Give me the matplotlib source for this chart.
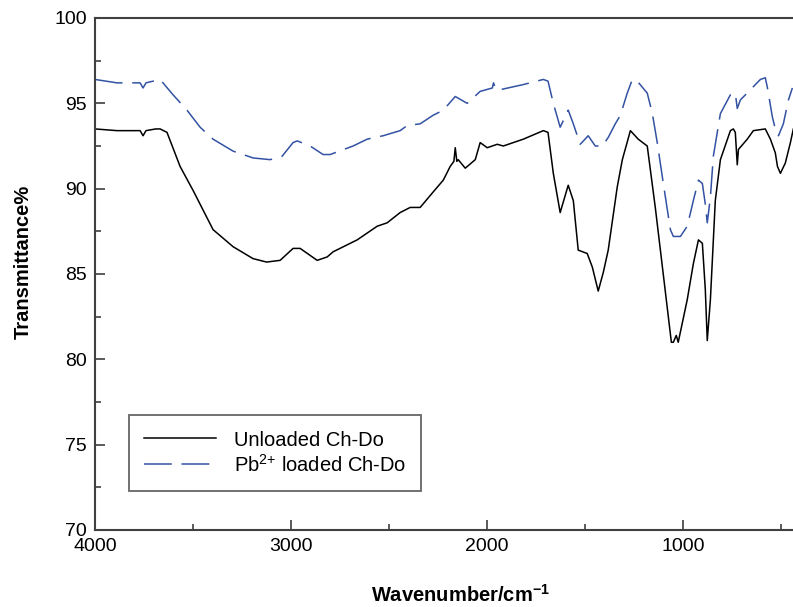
import matplotlib
matplotlib.use("Agg")
import matplotlib.pyplot as plt
from matplotlib.ticker import MultipleLocator

plt.rcParams['font.family'] = ['Liberation Sans', 'DejaVu Sans']
plt.rcParams['lines.scale_dashes'] = False
plt.rcParams['mathtext.fontset'] = 'custom'
plt.rcParams['mathtext.rm'] = 'Liberation Sans'
plt.rcParams['mathtext.bf'] = 'Liberation Sans:bold'

# Unloaded Ch-Do (wavenumber, transmittance)
unloaded_wn = [4000, 3888, 3770, 3755, 3740, 3690, 3668, 3633, 3566, 3500, 3398, 3296, 3194,
               3125, 3056, 2990, 2954, 2867, 2816, 2786, 2663, 2561, 2510, 2444, 2393, 2342,
               2276, 2224, 2189, 2170, 2163, 2155, 2148, 2112, 2061, 2036, 2000, 1949, 1918,
               1816, 1714, 1690, 1663, 1628, 1587, 1561, 1536, 1490, 1464, 1434, 1408, 1383,
               1337, 1311, 1270, 1230, 1184, 1143, 1117, 1061, 1051, 1036, 1026, 980, 949,
               923, 903, 888, 878, 862, 837, 811, 760, 745, 735, 725, 719, 674, 643, 582,
               556, 531, 520, 505, 480, 454, 439]
unloaded_t = [93.5, 93.4, 93.4, 93.1, 93.4, 93.5, 93.5, 93.3, 91.3, 89.9, 87.6, 86.6, 85.9,
              85.7, 85.8, 86.5, 86.5, 85.8, 86.0, 86.3, 87.0, 87.8, 88.0, 88.6, 88.9, 88.9,
              89.8, 90.5, 91.3, 91.6, 92.4, 91.6, 91.7, 91.2, 91.7, 92.7, 92.4, 92.6, 92.5,
              92.9, 93.4, 93.3, 90.9, 88.6, 90.2, 89.3, 86.4, 86.2, 85.4, 84.0, 85.1, 86.4,
              90.1, 91.7, 93.4, 92.9, 92.5, 88.9, 86.4, 81.0, 81.0, 81.4, 81.0, 83.5, 85.6,
              87.0, 86.8, 84.1, 81.1, 83.5, 89.3, 91.7, 93.4, 93.5, 93.3, 91.4, 92.3, 92.9,
              93.4, 93.5, 92.9, 92.1, 91.3, 90.9, 91.5, 92.7, 93.5]

# Pb2+ loaded Ch-Do (wavenumber, transmittance)
loaded_wn = [4000, 3888, 3770, 3755, 3740, 3668, 3602, 3531, 3464, 3398, 3296, 3194, 3107,
             3046, 2990, 2969, 2903, 2837, 2801, 2684, 2612, 2531, 2444, 2408, 2342, 2276,
             2224, 2163, 2102, 2036, 1974, 1968, 1955, 1934, 1816, 1714, 1690, 1663, 1628,
             1587, 1561, 1526, 1485, 1449, 1413, 1383, 1347, 1321, 1286, 1260, 1235, 1184,
             1158, 1133, 1102, 1066, 1051, 1015, 980, 949, 923, 903, 888, 878, 862, 847,
             811, 760, 735, 725, 709, 658, 607, 582, 571, 546, 531, 515, 490, 464, 444]
loaded_t = [96.4, 96.2, 96.2, 95.9, 96.2, 96.4, 95.5, 94.6, 93.6, 92.9, 92.2, 91.8, 91.7,
            91.9, 92.7, 92.8, 92.5, 92.0, 92.0, 92.5, 92.9, 93.1, 93.4, 93.7, 93.8, 94.3,
            94.6, 95.4, 95.0, 95.7, 95.9, 96.2, 95.8, 95.8, 96.1, 96.4, 96.3, 95.0, 93.6,
            94.6, 93.8, 92.6, 93.1, 92.5, 92.5, 93.0, 93.8, 94.3, 95.6, 96.4, 96.3, 95.6,
            94.4, 92.7, 90.3, 87.6, 87.2, 87.2, 87.8, 89.3, 90.5, 90.3, 89.1, 88.0, 89.5,
            91.9, 94.4, 95.5, 95.6, 94.7, 95.2, 95.8, 96.4, 96.5, 95.9, 94.2, 93.5, 93.1,
            93.8, 95.2, 95.9]

fig = plt.figure(figsize=(7.93, 6.07), dpi=100)
ax = fig.add_axes([95/793, (607-530)/607, (801-95)/793, (530-18)/607])

spine_c = '#404040'
ax.plot(unloaded_wn, unloaded_t, color='black', lw=1.1, label='Unloaded Ch-Do')
ax.plot(loaded_wn, loaded_t, color='#3352a3', lw=1.1, dashes=(20, 7),
        label='Pb$^{\\mathregular{2{+}}}$ loaded Ch-Do')

ax.set_xlim(4000, 400)
ax.set_ylim(70, 100)
ax.xaxis.set_major_locator(MultipleLocator(1000))
ax.xaxis.set_minor_locator(MultipleLocator(500))
ax.yaxis.set_major_locator(MultipleLocator(5))
ax.yaxis.set_minor_locator(MultipleLocator(2.5))
ax.tick_params(which='both', direction='in', colors=spine_c, labelcolor='black',
               labelsize=14, top=False, right=False, width=1.2)
ax.tick_params(which='major', length=7, pad=6)
ax.tick_params(which='minor', length=4)
for s in ['left', 'bottom', 'top']:
    ax.spines[s].set_color(spine_c)
    ax.spines[s].set_linewidth(1.5)
ax.spines['right'].set_visible(False)

ax.set_xlabel('Wavenumber/cm$^{\\mathbf{-1}}$', fontsize=14.5, fontweight='bold')
ax.xaxis.set_label_coords(0.517, -0.105)
ax.set_ylabel('Transmittance%', fontsize=14.5, fontweight='bold')
ax.yaxis.set_label_coords(-0.088, 0.523)

leg = ax.legend(loc='lower left', bbox_to_anchor=(0.048, 0.077), fontsize=14.5,
                frameon=True, fancybox=False, edgecolor=spine_c, handlelength=3.6,
                handletextpad=0.85, borderpad=0.75, labelspacing=0.2, borderaxespad=0)
leg.get_frame().set_linewidth(1.3)

fig.savefig('out.png', dpi=100)
